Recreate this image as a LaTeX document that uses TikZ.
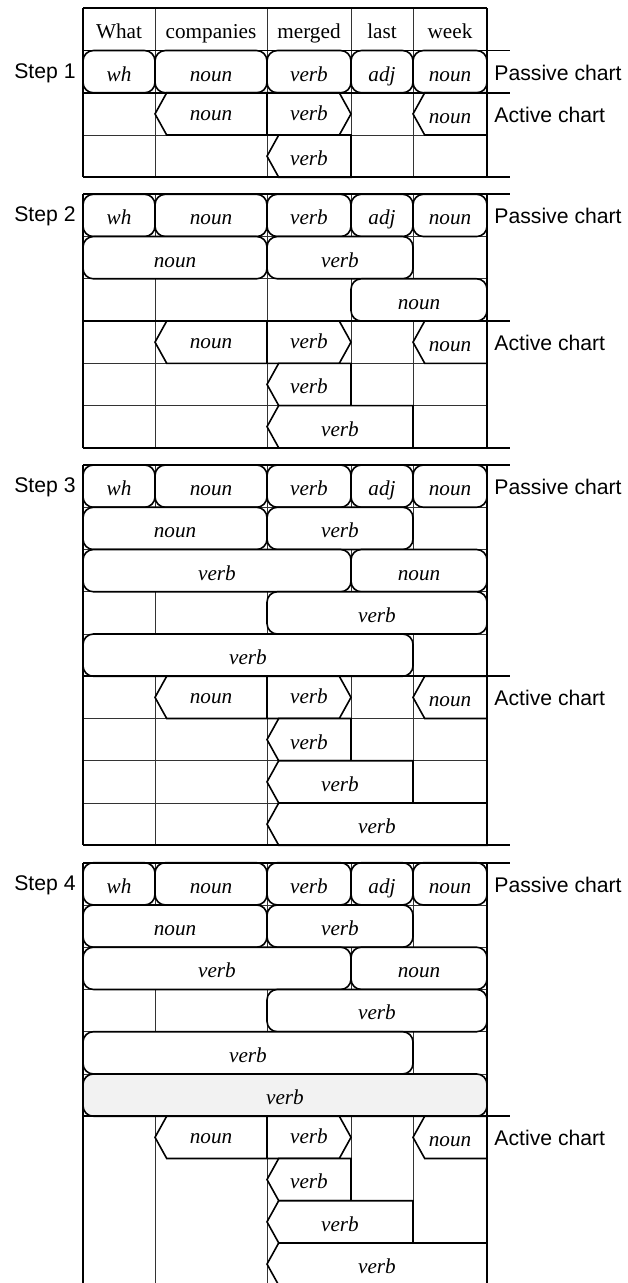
\documentclass[tikz,border=0pt]{standalone}
\usepackage{fontspec}
\setmainfont{Liberation Serif}
\newfontfamily\sansf{Liberation Sans}
\newcommand\fsz{\fontsize{10.6}{12}\selectfont}
% passive box: [style]{T}{row}{c1}{c2}{name}{label}
\newcommand\PB[7][]{%
  \pgfmathsetmacro\xa{{83,155,267,351,413,487}[#4]}%
  \pgfmathsetmacro\xb{{83,155,267,351,413,487}[#5]}%
  \pgfmathsetmacro\ya{#2+#3*42.25}%
  \pgfmathsetmacro\yb{\ya+42.25}%
  \pgfmathsetmacro\xm{(\xa+\xb)/2}%
  \pgfmathsetmacro\yl{\ya+30.5}%
  \draw[pass,#1] (\xa,\ya) rectangle (\xb,\yb);%
  \node[lab] (#6) at (\xm,\yl) {#7};%
}
% active box pointed on the left: [style]{T}{row}{c1}{c2}{name}{label}
\newcommand\AL[7][]{%
  \pgfmathsetmacro\xa{{83,155,267,351,413,487}[#4]}%
  \pgfmathsetmacro\xb{{83,155,267,351,413,487}[#5]}%
  \pgfmathsetmacro\ya{#2+#3*42.25}%
  \pgfmathsetmacro\yb{\ya+42.25}%
  \pgfmathsetmacro\ym{\ya+21.125}%
  \pgfmathsetmacro\xp{\xa+11.7}%
  \pgfmathsetmacro\xm{(\xa+\xb)/2}%
  \pgfmathsetmacro\yl{\ya+30.5}%
  \draw[act,#1] (\xp,\ya) -- (\xb,\ya) -- (\xb,\yb) -- (\xp,\yb) -- (\xa,\ym) -- cycle;%
  \node[lab] (#6) at (\xm,\yl) {#7};%
}
% hexagonal active box noun|verb: {T}{row}{name1}{name2}
\newcommand\AH[4]{%
  \pgfmathsetmacro\ya{#1+#2*42.25}%
  \pgfmathsetmacro\yb{\ya+42.25}%
  \pgfmathsetmacro\ym{\ya+21.125}%
  \pgfmathsetmacro\yl{\ya+27.5}%
  \draw[act] (166.7,\ya) -- (339.3,\ya) -- (351,\ym) -- (339.3,\yb) -- (166.7,\yb) -- (155,\ym) -- cycle;%
  \draw[act] (267,\ya) -- (267,\yb);%
  \node[lab] (#3) at (211,\yl) {noun};%
  \node[lab] (#4) at (309,\yl) {verb};%
}
% grid: {T}{rows}{last horizontal index}
\newcommand\Grid[3]{%
  \pgfmathsetmacro\yB{#1+#2*42.25}%
  \foreach \x in {155,267,351,413} \draw[gridline] (\x,#1) -- (\x,\yB);%
  \foreach \r in {1,...,#3} \draw[gridline] (83,{#1+\r*42.25}) -- (487,{#1+\r*42.25});%
}
\begin{document}
\begin{tikzpicture}[x=0.5pt,y=-0.5pt,
  gridline/.style={line width=0.45pt,black!80},
  frame/.style={line width=0.8pt,black},
  pass/.style={draw,line width=0.8pt,fill=white,rounded corners=5.2pt},
  act/.style={draw,line width=0.8pt,fill=white,line join=miter},
  lab/.style={anchor=base,font=\fsz\itshape,inner sep=0pt},
  hdr/.style={anchor=base,font=\fsz,inner sep=0pt},
  side/.style={anchor=base west,font=\sansf\fsz,inner sep=0pt},
  steplab/.style={anchor=base east,font=\sansf\fsz,inner sep=0pt}]
\clip (0,0) rectangle (627,1283);

% ================= Step 1 =================
\def\T{8.3}
\Grid{\T}{4}{3}
\node[hdr] (h0) at (119,38.8) {What};
\node[hdr] (h1) at (211,38.8) {companies};
\node[hdr] (h2) at (309,38.8) {merged};
\node[hdr] (h3) at (382,38.8) {last};
\node[hdr] (h4) at (450,38.8) {week};
\PB{\T}{1}{0}{1}{aPa}{wh}
\PB{\T}{1}{1}{2}{aPb}{noun}
\PB{\T}{1}{2}{3}{aPc}{verb}
\PB{\T}{1}{3}{4}{aPd}{adj}
\PB{\T}{1}{4}{5}{aPe}{noun}
\AH{\T}{2}{aAa}{aAb}
\AL{\T}{2}{4}{5}{aAc}{noun}
\AL{\T}{3}{2}{3}{aAd}{verb}
\draw[frame] (83,8.3) -- (83,177.3) (487,8.3) -- (487,177.3) (83,8.3) -- (487,8.3);
\draw[frame] (83,50.55) -- (510,50.55) (83,92.8) -- (510,92.8) (83,177.3) -- (510,177.3);
\node[steplab] (st1) at (76,78.5) {Step 1};
\node[side] (pc1) at (494,80.5) {Passive chart};
\node[side] (ac1) at (494,122.5) {Active chart};

% ================= Step 2 =================
\def\T{194.3}
\Grid{\T}{6}{5}
\PB{\T}{0}{0}{1}{bPa}{wh}
\PB{\T}{0}{1}{2}{bPb}{noun}
\PB{\T}{0}{2}{3}{bPc}{verb}
\PB{\T}{0}{3}{4}{bPd}{adj}
\PB{\T}{0}{4}{5}{bPe}{noun}
\PB{\T}{1}{0}{2}{bPf}{noun}
\PB{\T}{1}{2}{4}{bPg}{verb}
\PB{\T}{2}{3}{5}{bPh}{noun}
\AH{\T}{3}{bAa}{bAb}
\AL{\T}{3}{4}{5}{bAc}{noun}
\AL{\T}{4}{2}{3}{bAd}{verb}
\AL{\T}{5}{2}{4}{bAe}{verb}
\draw[frame] (83,194.3) -- (83,447.8) (487,194.3) -- (487,447.8);
\draw[frame] (83,194.3) -- (510,194.3) (83,321.05) -- (510,321.05) (83,447.8) -- (510,447.8);
\node[steplab] (st2) at (76,222) {Step 2};
\node[side] (pc2) at (494,224) {Passive chart};
\node[side] (ac2) at (494,350.5) {Active chart};

% ================= Step 3 =================
\def\T{465}
\Grid{\T}{9}{8}
\PB{\T}{0}{0}{1}{cPa}{wh}
\PB{\T}{0}{1}{2}{cPb}{noun}
\PB{\T}{0}{2}{3}{cPc}{verb}
\PB{\T}{0}{3}{4}{cPd}{adj}
\PB{\T}{0}{4}{5}{cPe}{noun}
\PB{\T}{1}{0}{2}{cPf}{noun}
\PB{\T}{1}{2}{4}{cPg}{verb}
\PB{\T}{2}{0}{3}{cPh}{verb}
\PB{\T}{2}{3}{5}{cPi}{noun}
\PB{\T}{3}{2}{5}{cPj}{verb}
\PB{\T}{4}{0}{4}{cPk}{verb}
\AH{\T}{5}{cAa}{cAb}
\AL{\T}{5}{4}{5}{cAc}{noun}
\AL{\T}{6}{2}{3}{cAd}{verb}
\AL{\T}{7}{2}{4}{cAe}{verb}
\AL{\T}{8}{2}{5}{cAf}{verb}
\draw[frame] (83,465) -- (83,845.25) (487,465) -- (487,845.25);
\draw[frame] (83,465) -- (510,465) (83,676.25) -- (510,676.25) (83,845.25) -- (510,845.25);
\node[steplab] (st3) at (76,492.5) {Step 3};
\node[side] (pc3) at (494,494.5) {Passive chart};
\node[side] (ac3) at (494,705.5) {Active chart};

% ================= Step 4 =================
\def\T{862.7}
\Grid{\T}{10}{5}
\PB{\T}{0}{0}{1}{dPa}{wh}
\PB{\T}{0}{1}{2}{dPb}{noun}
\PB{\T}{0}{2}{3}{dPc}{verb}
\PB{\T}{0}{3}{4}{dPd}{adj}
\PB{\T}{0}{4}{5}{dPe}{noun}
\PB{\T}{1}{0}{2}{dPf}{noun}
\PB{\T}{1}{2}{4}{dPg}{verb}
\PB{\T}{2}{0}{3}{dPh}{verb}
\PB{\T}{2}{3}{5}{dPi}{noun}
\PB{\T}{3}{2}{5}{dPj}{verb}
\PB{\T}{4}{0}{4}{dPk}{verb}
\PB[fill=black!5]{\T}{5}{0}{5}{dPl}{verb}
\AH{\T}{6}{dAa}{dAb}
\AL{\T}{6}{4}{5}{dAc}{noun}
\AL{\T}{7}{2}{3}{dAd}{verb}
\AL{\T}{8}{2}{4}{dAe}{verb}
\AL{\T}{9}{2}{5}{dAf}{verb}
\draw[frame] (83,862.7) -- (83,1290) (487,862.7) -- (487,1290);
\draw[frame] (83,862.7) -- (510,862.7) (83,1116.2) -- (510,1116.2);
\node[steplab] (st4) at (76,890.5) {Step 4};
\node[side] (pc4) at (494,892.5) {Passive chart};
\node[side] (ac4) at (494,1145.5) {Active chart};
\end{tikzpicture}
\end{document}
